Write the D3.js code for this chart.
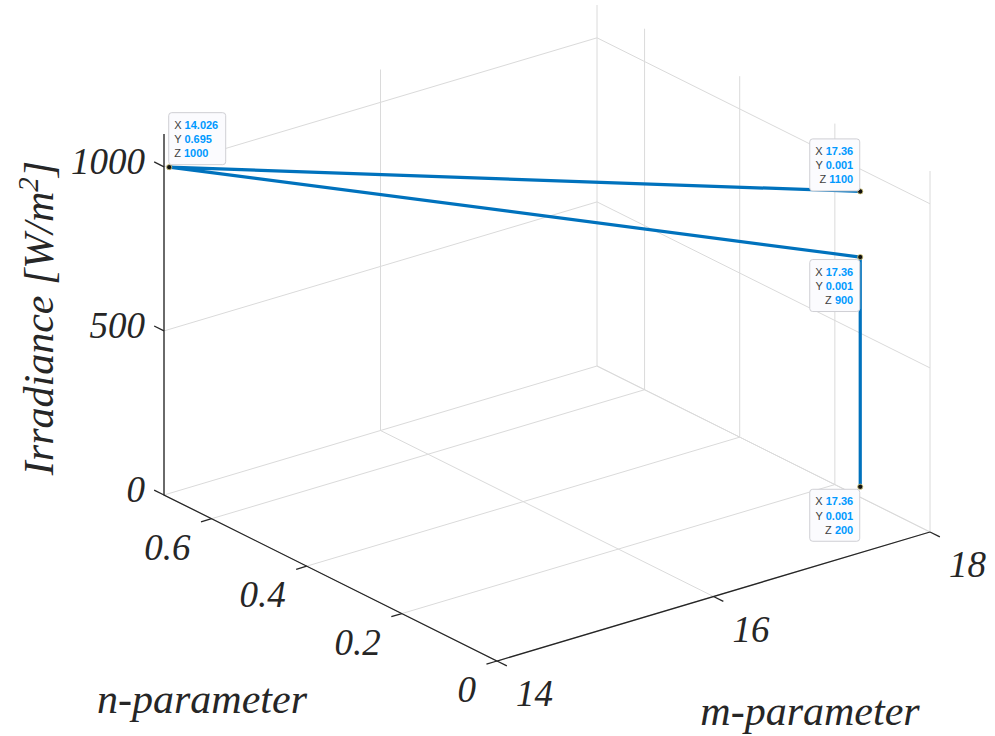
<!DOCTYPE html>
<html>
<head>
<meta charset="utf-8">
<script src="https://cdn.jsdelivr.net/npm/d3@7"></script>
<style>
  html, body { margin: 0; padding: 0; background: #ffffff; }
  svg { display: block; }
</style>
</head>
<body>
<svg id="chart" width="995" height="736"></svg>
<script>
// Axis limits and ticks
const mDomain = [14, 18];        // m-parameter (X)
const nDomain = [0, 0.7];        // n-parameter (Y)
const irrDomain = [0, 1100];     // irradiance (Z)
const mTicks = [14, 16, 18];
const nTicks = [0, 0.2, 0.4, 0.6];
const irrTicks = [0, 500, 1000];
const mTickLabels = ["14", "16", "18"];
const nTickLabels = ["0", "0.2", "0.4", "0.6"];
const irrTickLabels = ["0", "500", "1000"];

// Marked points (data tips)
const pointM = [14.026, 17.36, 17.36, 17.36];
const pointN = [0.695, 0.001, 0.001, 0.001];
const pointIrr = [1000, 1100, 900, 200];
// The plotted line runs through the points in this order
const lineOrder = [1, 0, 2, 3];
// Text alignment of each data tip
const tipAlign = ["left", "right", "right", "right"];
const tipPlace = ["above-right", "above-left", "below-left", "below-left"];

const svg = d3.select("#chart");

// Orthographic view: each axis scale gives a 0..1 fraction along its screen vector
const xs = d3.scaleLinear().domain(mDomain).range([0, 1]);
const ys = d3.scaleLinear().domain(nDomain).range([0, 1]);
const zs = d3.scaleLinear().domain(irrDomain).range([0, 1]);
const origin = [497, 661];
const vx = [433, -129];
const vy = [-333, -166];
const vz = [0, -361];
function proj(x, y, z) {
  const a = xs(x), b = ys(y), c = zs(z);
  return [origin[0] + a * vx[0] + b * vy[0] + c * vz[0],
          origin[1] + a * vx[1] + b * vy[1] + c * vz[1]];
}
const line = d3.line();

const gridColor = "#dadada";
const axisColor = "#262626";
const SERIF = "Liberation Serif";
const SANS = "Liberation Sans";

// Italic serif text helper
function serifText(parent, size) {
  return parent.append("text")
    .style("font-family", SERIF).style("font-style", "italic")
    .style("font-size", size + "px").attr("fill", axisColor);
}

const xMax = mDomain[1], xMin = mDomain[0];
const yMax = nDomain[1], yMin = nDomain[0];
const zMax = irrDomain[1];

const grid = svg.append("g").attr("fill", "none").attr("stroke", gridColor).attr("stroke-width", 1);
// Irradiance grid lines on the two back walls
irrTicks.forEach(z => {
  grid.append("path").attr("d", line([proj(xMin, yMax, z), proj(xMax, yMax, z), proj(xMax, yMin, z)]));
});
// m-parameter grid lines on the floor and the back wall
mTicks.forEach(x => {
  grid.append("path").attr("d", line([proj(x, yMin, 0), proj(x, yMax, 0), proj(x, yMax, zMax)]));
});
// n-parameter grid lines on the floor and the right wall
nTicks.forEach(y => {
  grid.append("path").attr("d", line([proj(xMin, y, 0), proj(xMax, y, 0), proj(xMax, y, zMax)]));
});

// Axis lines
const axes = svg.append("g").attr("fill", "none").attr("stroke", axisColor).attr("stroke-width", 1.3);
axes.append("path").attr("d", line([proj(xMin, yMax, zMax), proj(xMin, yMax, 0), proj(xMin, yMin, 0), proj(xMax, yMin, 0)]));

// Tick marks
const unit = v => { const l = Math.hypot(v[0], v[1]); return [v[0] / l, v[1] / l]; };
const dirY = unit(vy), dirNegX = unit([-vx[0], -vx[1]]), dirNegY = unit([-vy[0], -vy[1]]);
const tickLen = 11;
irrTicks.forEach(z => {
  const p = proj(xMin, yMax, z);
  axes.append("path").attr("d", line([p, [p[0] + dirY[0] * tickLen, p[1] + dirY[1] * tickLen]]));
});
nTicks.forEach(y => {
  const p = proj(xMin, y, 0);
  axes.append("path").attr("d", line([p, [p[0] + dirNegX[0] * tickLen, p[1] + dirNegX[1] * tickLen]]));
});
mTicks.forEach(x => {
  const p = proj(x, yMin, 0);
  axes.append("path").attr("d", line([p, [p[0] + dirNegY[0] * tickLen, p[1] + dirNegY[1] * tickLen]]));
});

// Tick labels
const labels = svg.append("g");
irrTicks.forEach((z, i) => {
  const p = proj(xMin, yMax, z);
  serifText(labels, 37).attr("x", p[0] - 19).attr("y", p[1] + 7)
    .attr("text-anchor", "end").text(irrTickLabels[i]);
});
nTicks.forEach((y, i) => {
  const p = proj(xMin, y, 0);
  serifText(labels, 37).attr("x", p[0] - 21).attr("y", p[1] + 41)
    .attr("text-anchor", "end").text(nTickLabels[i]);
});
mTicks.forEach((x, i) => {
  const p = proj(x, yMin, 0);
  serifText(labels, 37).attr("x", p[0] + 19).attr("y", p[1] + 45)
    .attr("text-anchor", "start").text(mTickLabels[i]);
});

// Axis titles
const titles = svg.append("g");
serifText(titles, 42).attr("x", 202).attr("y", 713).attr("text-anchor", "middle").text("n-parameter");
serifText(titles, 42).attr("x", 810).attr("y", 725).attr("text-anchor", "middle").text("m-parameter");
const zt = serifText(titles, 42).attr("transform", "translate(53,318) rotate(-90)").attr("text-anchor", "middle");
zt.append("tspan").text("Irradiance [W/m");
zt.append("tspan").style("font-size", "29px").attr("dy", -15).text("2");
zt.append("tspan").attr("dy", 15).text("]");

// The data line
const pts = lineOrder.map(i => proj(pointM[i], pointN[i], pointIrr[i]));
svg.append("path").attr("d", line(pts)).attr("fill", "none")
  .attr("stroke", "#0072BD").attr("stroke-width", 3.2).attr("stroke-linejoin", "round");

// Data tip markers
pointM.forEach((m, i) => {
  const p = proj(m, pointN[i], pointIrr[i]);
  svg.append("circle").attr("cx", p[0]).attr("cy", p[1]).attr("r", 2.6)
    .attr("fill", "#111111").attr("stroke", "#d8cc7a").attr("stroke-width", 0.8);
});

// Data tip boxes
pointM.forEach((m, i) => {
  const p = proj(m, pointN[i], pointIrr[i]);
  const g = svg.append("g");
  const rows = [["X", String(m)], ["Y", String(pointN[i])], ["Z", String(pointIrr[i])]];
  const box = g.append("rect").attr("rx", 3).attr("ry", 3)
    .attr("fill", "#fbfbfe").attr("stroke", "#cfcfd4").attr("stroke-width", 1);
  const texts = rows.map(r => {
    const t = g.append("text").style("font-family", SANS).style("font-size", "11px");
    t.append("tspan").attr("fill", "#404040").text(r[0] + " ");
    t.append("tspan").attr("fill", "#0099ff").style("font-weight", "bold").text(r[1]);
    return t;
  });
  const w = Math.ceil(d3.max(texts, t => t.node().getComputedTextLength())) + 12;
  const h = 52;
  let left, top;
  if (tipPlace[i] === "above-right") { left = p[0] - 1; top = p[1] - 3 - h; }
  else if (tipPlace[i] === "above-left") { left = p[0] - 1 - w; top = p[1] - 1 - h; }
  else { left = p[0] - 1 - w; top = p[1] + 2; }
  box.attr("x", left + 0.5).attr("y", top + 0.5).attr("width", w).attr("height", h);
  const rowY = [16.5, 30.8, 45];
  texts.forEach((t, k) => {
    if (tipAlign[i] === "left") t.attr("x", left + 6).attr("text-anchor", "start");
    else t.attr("x", left + w - 6).attr("text-anchor", "end");
    t.attr("y", top + rowY[k]);
  });
});
</script>
</body>
</html>
